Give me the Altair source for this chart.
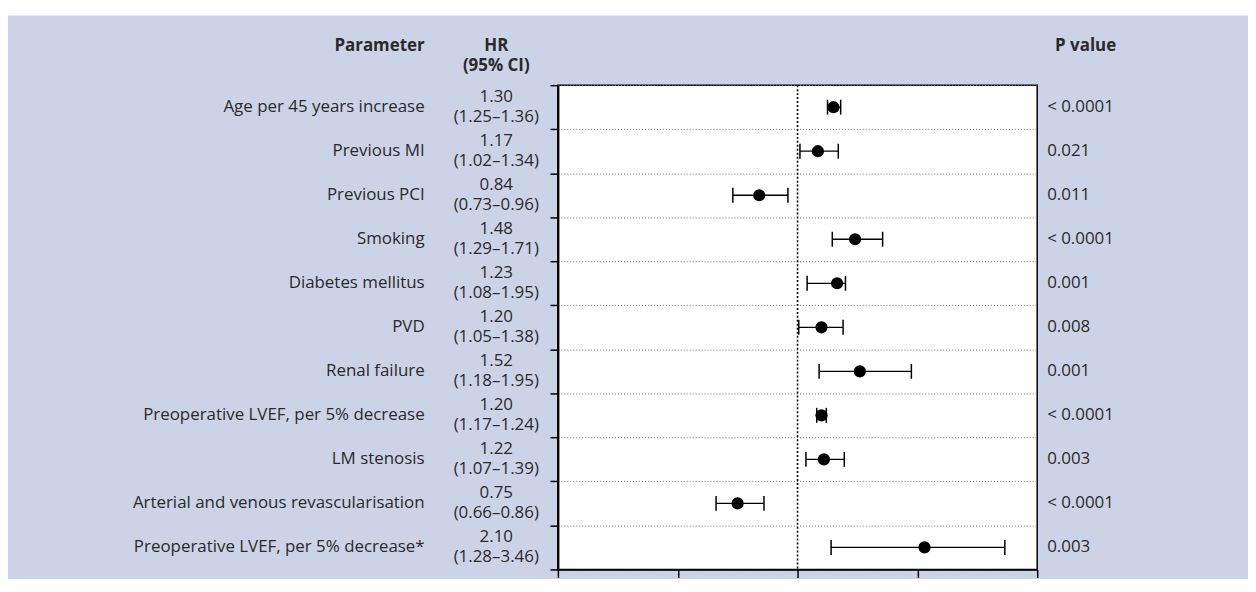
import altair as alt
import pandas as pd

# ---- data ----
params = [
    "Age per 45 years increase",
    "Previous MI",
    "Previous PCI",
    "Smoking",
    "Diabetes mellitus",
    "PVD",
    "Renal failure",
    "Preoperative LVEF, per 5% decrease",
    "LM stenosis",
    "Arterial and venous revascularisation",
    "Preoperative LVEF, per 5% decrease*",
]
hr_text = ["1.30", "1.17", "0.84", "1.48", "1.23", "1.20", "1.52", "1.20", "1.22", "0.75", "2.10"]
ci_text = [
    "(1.25–1.36)", "(1.02–1.34)", "(0.73–0.96)", "(1.29–1.71)", "(1.08–1.95)",
    "(1.05–1.38)", "(1.18–1.95)", "(1.17–1.24)", "(1.07–1.39)", "(0.66–0.86)", "(1.28–3.46)",
]
p_text = ["< 0.0001", "0.021", "0.011", "< 0.0001", "0.001", "0.008", "0.001",
          "< 0.0001", "0.003", "< 0.0001", "0.003"]
# values as drawn in the figure
hr_plot = [1.30, 1.17, 0.84, 1.48, 1.33, 1.20, 1.52, 1.20, 1.22, 0.75, 2.06]
ci_low_plot = [1.25, 1.02, 0.73, 1.29, 1.08, 1.01, 1.18, 1.16, 1.07, 0.66, 1.28]
ci_high_plot = [1.36, 1.34, 0.96, 1.71, 1.40, 1.38, 1.95, 1.24, 1.39, 0.86, 2.73]
header_param = "Parameter"
header_hr = "HR\n(95% CI)"
header_p = "P value"
x_ticks = [0, 0.5, 1, 2, 3]
x_breaks = [0, 1, 3]
ref_value = [1.0]

df = pd.DataFrame({
    "param": params,
    "hr_label": [f"{h}\n{c}" for h, c in zip(hr_text, ci_text)],
    "p": p_text,
    "hr": hr_plot,
    "lo": ci_low_plot,
    "hi": ci_high_plot,
    "row": [i + 0.5 for i in range(len(params))],
})
row_edges = list(range(len(params) + 1))

W, H = 482, 487
FONT = "Open Sans"
FS = 17
LH = 20
TXT = "#2a2a2a"
BG = "#CDD3E6"

xscale = alt.Scale(domain=x_breaks, range=[0, W / 2, W], nice=False, zero=False)
yscale = alt.Scale(domain=[0, len(params)], reverse=True, nice=False, zero=False)

xaxis = alt.Axis(values=x_ticks, labels=False, title=None, grid=False, tickSize=8,
                 tickColor="black", tickWidth=1.5, domainColor="black", domainWidth=1.5)
yaxis = alt.Axis(values=row_edges, labels=False, title=None, grid=True, gridDash=[1, 2],
                 gridColor="#777777", gridWidth=1, tickSize=8, tickColor="black",
                 tickWidth=1.5, domainColor="black", domainWidth=2)

base = alt.Chart(df)

bars = base.mark_rule(color="black", strokeWidth=1.3).encode(
    x=alt.X("lo:Q", scale=xscale, axis=xaxis),
    x2="hi:Q",
    y=alt.Y("row:Q", scale=yscale, axis=yaxis),
)
cap_lo = base.mark_tick(orient="vertical", size=15, thickness=1.5, color="black", opacity=1).encode(
    x="lo:Q", y="row:Q")
cap_hi = base.mark_tick(orient="vertical", size=15, thickness=1.5, color="black", opacity=1).encode(
    x="hi:Q", y="row:Q")
points = base.mark_circle(size=150, color="black", opacity=1).encode(x="hr:Q", y="row:Q")

ref = alt.Chart(pd.DataFrame({"ref": ref_value})).mark_rule(
    color="black", strokeDash=[2, 2], strokeWidth=1.6).encode(x="ref:Q")

param_txt = base.mark_text(align="right", baseline="middle", font=FONT, fontSize=FS, color=TXT).encode(
    x=alt.value(-134), y="row:Q", text="param:N")
hr_txt = base.mark_text(align="center", baseline="middle", font=FONT, fontSize=FS, color=TXT,
                        lineBreak="\n", lineHeight=LH, dy=-LH / 2).encode(
    x=alt.value(-62), y="row:Q", text="hr_label:N")
p_txt = base.mark_text(align="left", baseline="middle", font=FONT, fontSize=FS, color=TXT).encode(
    x=alt.value(492), y="row:Q", text="p:N")

one = pd.DataFrame({"k": [0]})
h_param = alt.Chart(one).mark_text(align="right", baseline="middle", font=FONT, fontSize=FS,
                                   fontWeight="bold", color=TXT, text=header_param).encode(
    x=alt.value(-134), y=alt.value(-39))
h_hr = alt.Chart(one).mark_text(align="center", baseline="middle", font=FONT, fontSize=FS,
                                fontWeight="bold", color=TXT, lineBreak="\n", lineHeight=LH,
                                text=header_hr).encode(
    x=alt.value(-62), y=alt.value(-39))
h_p = alt.Chart(one).mark_text(align="left", baseline="middle", font=FONT, fontSize=FS,
                               fontWeight="bold", color=TXT, text=header_p).encode(
    x=alt.value(500), y=alt.value(-39))
white_strip = alt.Chart(one).mark_rect(color="white").encode(
    x=alt.value(-560), x2=alt.value(W + 220), y=alt.value(-80), y2=alt.value(-70))

chart = alt.layer(
    white_strip, ref, bars, cap_lo, cap_hi, points,
    param_txt, hr_txt, p_txt, h_param, h_hr, h_p,
).properties(
    width=W, height=H,
    padding={"left": 553, "top": 76, "right": 212, "bottom": 8},
    autosize=alt.AutoSizeParams(type="none"),
    background=BG,
).configure_view(fill="white", stroke="black", strokeWidth=1.5)

chart.save("out.html", embed_options={"renderer": "svg", "actions": False})
